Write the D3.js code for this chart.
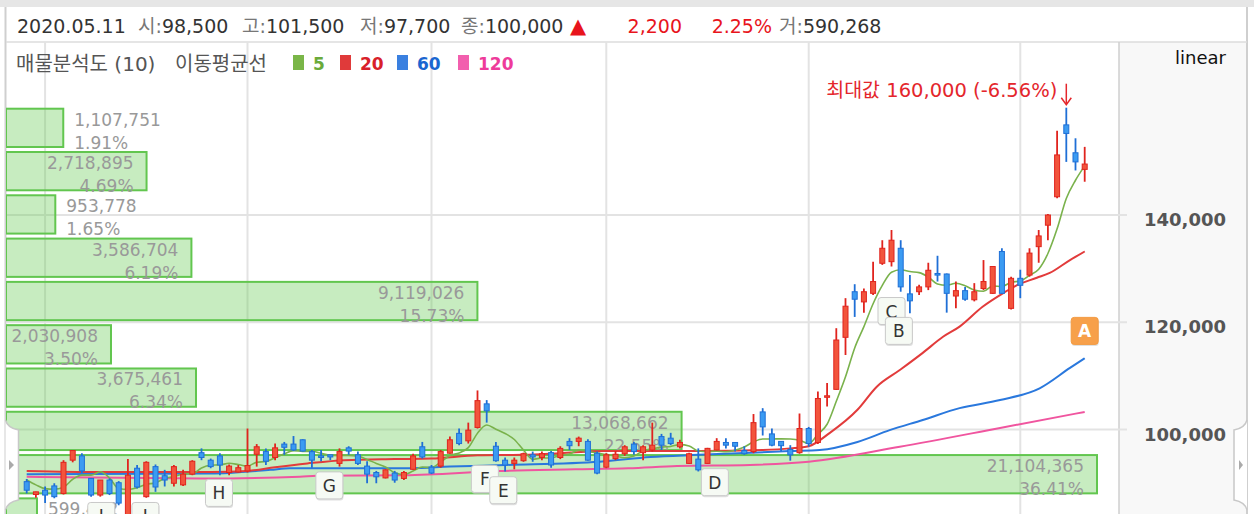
<!DOCTYPE html>
<html><head><meta charset="utf-8">
<script src="https://cdn.jsdelivr.net/npm/d3@7"></script>
<style>
body{margin:0;background:#fff;}
svg{display:block;}
</style></head><body>
<svg id="c" width="1254" height="514"></svg>
<script>
// ---------- data ----------
const opens  = [90300,87900,88700,89500,88100,94300,95100,90900,87800,90600,90100,82500,92800,87500,93100,91400,90000,89700,91700,95700,94300,95100,92000,92100,92300,95400,95900,94800,97300,97300,98100,95900,95100,95300,93700,96600,95300,93200,92000,91000,91900,90900,92600,96800,93000,93200,95600,99300,97900,100400,104800,96900,94300,93700,94200,95300,94800,95700,94800,97800,97800,97800,95600,93000,94600,95500,97300,95700,96200,98700,98400,96800,93700,94500,93700,96200,97600,97600,96100,95900,103300,99200,97800,96300,95700,100200,97600,106100,107500,117200,125700,123800,125400,131000,131300,133800,125300,125700,126600,129100,129000,124900,125900,124200,126300,125400,133200,122600,128200,128800,134100,138100,143400,156800,151600,148500];
const highs  = [90800,88400,89400,90000,94300,96200,95600,91000,90600,90900,90400,94500,93400,94100,93500,92500,93400,92500,94300,96500,94600,95600,93500,93400,100200,97300,96500,97400,97700,98800,98200,96200,96200,95300,96500,96900,95900,94100,92300,92600,92300,92300,95500,97700,93400,96200,98700,100200,101300,107300,105500,97700,94800,94800,95700,95900,95900,96000,96900,98400,98700,98200,95900,95600,96000,97100,97700,97100,101300,99200,99400,98100,95700,96500,96600,98400,98400,97700,96900,102900,104000,100200,97800,97100,103000,100500,107100,108700,118900,124500,127100,126300,131300,135300,137200,135300,128800,127000,131100,132400,129100,127600,126600,127300,131600,130400,133800,128500,129800,133800,137200,140200,155700,160000,154300,152700];
const lows   = [88100,87300,86300,87200,87900,93900,91900,87500,87500,87800,85900,79300,89000,87300,88400,89400,89400,89500,91500,94300,92800,91500,91500,92000,92000,93100,93400,94300,95300,96000,95900,92900,94100,94300,93100,95300,93400,90000,90000,90900,90100,90600,92500,94600,91700,92900,95500,97100,97400,100200,101300,94000,92200,92600,94000,94000,94300,92900,94500,96200,96900,94200,91700,92800,94300,95100,95300,94300,95900,96200,97100,96500,93600,92200,93600,96100,96500,95900,95300,95600,98900,96900,95900,94200,95500,96800,97300,104300,107400,113900,121000,121800,125100,130700,130400,125700,121700,125100,126000,127600,121800,122600,124000,123900,126000,125300,125300,122400,124500,128500,131100,135300,143100,149900,148300,146200];
const closes = [88700,88400,87800,87500,93900,96100,92300,87800,90600,88100,86300,91500,89300,93900,89300,90600,93100,91700,94100,94800,93100,93400,93200,92900,93300,96800,94100,96600,96700,96200,96000,94300,94800,94900,95900,96000,93700,91700,91200,92500,90600,92000,95100,94900,91900,95900,98100,97400,99900,105400,103500,94200,93400,94300,95500,94900,95500,93400,96500,97000,98400,94300,91900,95300,95400,96800,95900,96800,97100,97100,97400,97600,95500,92500,96500,97800,97100,96900,95500,101300,100500,97100,97000,95300,100200,97400,105800,106300,116700,123000,124300,125700,127600,133800,135300,126600,124000,126600,129700,128800,125400,125900,124300,125700,127600,130400,125400,128200,126900,132900,136100,140000,151200,155200,149900,149500];

// MA5 values at the first four candles (rest is the 5-day mean of closes)
const ma5Head = [90600,89700,89000,88900];
// [candle index, value]
const ma20 = [[0,92300],[8,92100],[20,92100],[24,92300],[27,93000],[30.5,93700],[34.5,94300],[40,94500],[44,94600],[49,95200],[54,95300],[58,95600],[63,96000],[73,96000],[80,96200],[83,96500],[85,96900],[87.3,99400],[90.3,103700],[92.4,108000],[94.9,111100],[97.4,114300],[99.6,117300],[101.4,119200],[103.9,122900],[106.1,125400],[107.6,126900],[109.8,128300],[111.2,129200],[113.4,131600],[115,133200]];
const ma60 = [[0,91700],[20,91800],[26.5,92500],[28.6,92800],[41.7,92800],[46,93100],[52,93400],[62.3,94000],[67.8,94900],[73,95300],[83,96000],[86.2,96200],[90.3,97700],[93.8,99900],[97.4,101800],[101.4,104000],[105.8,105500],[110.1,107700],[113.4,111500],[115,113300]];
const ma120 = [[0,91200],[18.8,90900],[29.7,91200],[31.5,91400],[41.1,91500],[51.5,92300],[59.6,92600],[65.4,92800],[70.7,93200],[78.6,93400],[85,94000],[94.9,96800],[105.8,100300],[115,103300]];

// volume profile (매물분석도, 10 equal price bins from the highest high down to the lowest low)
const volValues = [1107751,2718895,953778,3586704,9119026,2030908,3675461,13068662,21104365,599412];
const volPct    = [1.91,4.69,1.65,6.19,15.73,3.50,6.34,22.55,36.41,1.03];

// annotation markers [label, candle index, price]
const markLabels = ["J","I","H","G","F","E","D","C","B","A"];
const markIdx    = [8.1,12.9,20.9,32.9,49.8,51.8,74.8,94.0,94.8,115];
const markPrice  = [83900,83900,88200,89600,90800,88700,90200,122100,118400,118400];

const yTicks = [100000,120000,140000];
const gridIdx = [2,24,44,63,85,108];

const headerDate = "2020.05.11";
const headerLabels = ["시:","고:","저:","종:"];
const headerValues = ["98,500","101,500","97,700","100,000"];
const changeTxt = ["▲","2,200","2.25%"];
const volLabel = ["거:","590,268"];
const maLabels = ["5","20","60","120"];

// ---------- layout / style ----------
const headerX   = [138,242,360,461];
const legendX   = [293,340,397,458];
const maText    = ["#6aaa3a","#d8202a","#1a66d0","#ee3b9a"];
const maBox     = ["#7ab648","#e03a3a","#3a80e0","#f25fae"];
const FONT = 'DejaVu Sans, Noto Sans CJK KR';

const svg = d3.select('#c');
const L = 6, R = 1119, T = 42, B = 514;
const n = closes.length;
const x = d3.scaleLinear().domain([0, n-1]).range([26.7, 1084.7]);
const y = d3.scaleLinear().domain([100000, 140000]).range([429.6, 215]);
const vx = d3.scaleLinear().domain([0, d3.max(volValues)]).range([L, 1097]);

// backgrounds
svg.append('rect').attr('x',0).attr('y',0).attr('width',1254).attr('height',514).attr('fill','#fff');
svg.append('rect').attr('x',0).attr('y',0).attr('width',1254).attr('height',7).attr('fill','#e6e6e6');
svg.append('rect').attr('x',R).attr('y',T).attr('width',1247-R).attr('height',B-T).attr('fill','#f8f8f8');
svg.append('line').attr('x1',L-0.5).attr('x2',L-0.5).attr('y1',7).attr('y2',B).attr('stroke','#cfcfcf').attr('stroke-width',2);
svg.append('line').attr('x1',1247).attr('x2',1247).attr('y1',7).attr('y2',B).attr('stroke','#cfcfcf').attr('stroke-width',2);
svg.append('line').attr('x1',L).attr('x2',1247).attr('y1',T).attr('y2',T).attr('stroke','#dcdcdc').attr('stroke-width',1.5);
svg.append('line').attr('x1',R).attr('x2',R).attr('y1',T).attr('y2',B).attr('stroke','#cfcfcf').attr('stroke-width',1.5);

// grid
svg.append('g').selectAll('line').data(gridIdx).join('line')
  .attr('x1',d=>x(d)).attr('x2',d=>x(d)).attr('y1',T).attr('y2',B)
  .attr('stroke','#e3e3e3').attr('stroke-width',2);
svg.append('g').selectAll('line').data(yTicks).join('line')
  .attr('x1',L).attr('x2',1127).attr('y1',d=>y(d)).attr('y2',d=>y(d))
  .attr('stroke','#e3e3e3').attr('stroke-width',2);

// axis labels
svg.append('g').selectAll('text').data(yTicks).join('text')
  .attr('x',1226).attr('y',d=>y(d)+11).attr('text-anchor','end')
  .attr('font-family','DejaVu Sans').attr('font-weight','bold').attr('font-size',18)
  .attr('fill','#555').text(d=>d3.format(',')(d));
svg.append('text').attr('x',1226).attr('y',64).attr('text-anchor','end')
  .attr('font-family','DejaVu Sans').attr('font-size',18).attr('fill','#111').text('linear');

svg.append('clipPath').attr('id','pc').append('rect')
  .attr('x',L).attr('y',T).attr('width',R-L).attr('height',B-T);
const plot = svg.append('g').attr('clip-path','url(#pc)');

// volume profile bars
const pMax = d3.max(highs), pMin = d3.min(lows);
const binSize = (pMax - pMin) / volValues.length;
const vb = plot.append('g');
volValues.forEach((v,k)=>{
  const top = y(pMax - k*binSize), bot = y(pMax - (k+1)*binSize);
  vb.append('rect').attr('x',vx(0)).attr('y',top+1).attr('width',vx(v)-vx(0)).attr('height',bot-top-5)
    .attr('fill','#66cc55').attr('fill-opacity',0.37).attr('stroke','#62c64f').attr('stroke-width',2);
});
volValues.forEach((v,k)=>{
  const top = y(pMax - k*binSize);
  const g = vb.append('g');
  const t1 = g.append('text').attr('y',top+18).text(d3.format(',')(v));
  g.append('text').attr('y',top+41).text(volPct[k].toFixed(2)+'%');
  g.selectAll('text').attr('font-family','DejaVu Sans').attr('font-size',17).attr('fill','#999');
  const w = t1.node().getComputedTextLength();
  const right = vx(v);
  if (right - 13 - w >= L) {
    g.selectAll('text').attr('x',right-13).attr('text-anchor','end');
  } else {
    g.selectAll('text').attr('x',right+11).attr('text-anchor','start');
  }
});

// moving averages
const line = d3.line().x(d=>x(d[0])).y(d=>y(d[1])).curve(d3.curveMonotoneX);
const ma5 = closes.map((c,i)=> i<4 ? [i, ma5Head[i]] : [i, d3.mean(closes.slice(i-4,i+1))]);
plot.append('path').attr('d',line(ma120)).attr('fill','none').attr('stroke','#f0559f').attr('stroke-width',2);
plot.append('path').attr('d',line(ma60)).attr('fill','none').attr('stroke','#2a78dd').attr('stroke-width',2);
plot.append('path').attr('d',line(ma20)).attr('fill','none').attr('stroke','#e23b3b').attr('stroke-width',2);
plot.append('path').attr('d',line(ma5)).attr('fill','none').attr('stroke','#7ab24c').attr('stroke-width',1.6);

// candles
const cg = plot.append('g');
d3.range(n).forEach(i=>{
  const up = closes[i] >= opens[i];
  const dark = up ? '#e0241e' : '#1f6fd6';
  const fill = up ? '#f2543c' : '#3b9bf2';
  cg.append('line').attr('x1',x(i)).attr('x2',x(i)).attr('y1',y(highs[i])).attr('y2',y(lows[i]))
    .attr('stroke',dark).attr('stroke-width',1.8);
  const yt = y(Math.max(opens[i],closes[i])), yb = y(Math.min(opens[i],closes[i]));
  cg.append('rect').attr('x',x(i)-2.5).attr('y',yt).attr('width',5).attr('height',Math.max(1.5,yb-yt))
    .attr('fill',fill).attr('stroke',dark).attr('stroke-width',1);
});

// max annotation
const mi = d3.maxIndex(highs);
const mx = x(mi), my = y(highs[mi]);
svg.append('text').attr('x',mx-9).attr('y',my-11).attr('text-anchor','end')
  .attr('font-family',FONT).attr('font-size',19.5).attr('fill','#e4262c')
  .text('최대값 ' + d3.format(',')(highs[mi]) + ' (' + ((closes[n-1]/highs[mi]-1)*100).toFixed(2) + '%)');
svg.append('line').attr('x1',mx).attr('x2',mx).attr('y1',my-24).attr('y2',my-4).attr('stroke','#e4262c').attr('stroke-width',1.5);
svg.append('path').attr('d',`M${mx-5},${my-10}L${mx},${my-3}L${mx+5},${my-10}`).attr('fill','none').attr('stroke','#e4262c').attr('stroke-width',1.5);

// markers
const mg = plot.append('g');
markLabels.forEach((lab,k)=>{
  const cx = x(markIdx[k]), cy = y(markPrice[k]);
  const isA = lab==='A';
  mg.append('rect').attr('x',cx-13).attr('y',cy-12).attr('width',27).attr('height',27).attr('rx',3)
    .attr('fill','#ccc').attr('opacity',0.6);
  mg.append('rect').attr('x',cx-13.5).attr('y',cy-13.5).attr('width',27).attr('height',27).attr('rx',3)
    .attr('fill',isA?'#f7a04a':'#f6faf4').attr('stroke',isA?'#f39a40':'#c9c9c9').attr('stroke-width',1);
  mg.append('text').attr('x',cx).attr('y',cy+6.5).attr('text-anchor','middle')
    .attr('font-family','DejaVu Sans').attr('font-size',17).attr('font-weight',isA?'bold':'normal')
    .attr('fill',isA?'#fff':'#333').text(lab);
});

// header
const hg = svg.append('g').attr('font-family',FONT).attr('font-size',19);
hg.append('text').attr('x',17).attr('y',33).attr('fill','#333').text(headerDate);
headerLabels.forEach((lab,k)=>{
  const t = hg.append('text').attr('x',headerX[k]).attr('y',33);
  t.append('tspan').attr('fill','#777').text(lab);
  t.append('tspan').attr('fill','#333').text(headerValues[k]);
});
hg.append('text').attr('x',570).attr('y',33).attr('font-size',21).attr('fill','#e8141c').text(changeTxt[0]);
hg.append('text').attr('x',682).attr('y',33).attr('text-anchor','end').attr('fill','#e8141c').text(changeTxt[1]);
hg.append('text').attr('x',772).attr('y',33).attr('text-anchor','end').attr('fill','#e8141c').text(changeTxt[2]);
const vt = hg.append('text').attr('x',779).attr('y',33);
vt.append('tspan').attr('fill','#777').text(volLabel[0]);
vt.append('tspan').attr('fill','#333').text(volLabel[1]);

// legend
const lg = svg.append('g').attr('font-family',FONT).attr('font-size',20);
lg.append('text').attr('x',16).attr('y',71).attr('fill','#555').text('매물분석도 (10)');
lg.append('text').attr('x',175).attr('y',71).attr('fill','#555').text('이동평균선');
maLabels.forEach((lab,k)=>{
  lg.append('rect').attr('x',legendX[k]).attr('y',55).attr('width',11).attr('height',15).attr('fill',maBox[k]);
  lg.append('text').attr('x',legendX[k]+20).attr('y',70).attr('fill',maText[k]).attr('font-weight','bold')
    .attr('font-size',17).text(lab);
});

// side tabs
function tab(x0, s){
  const p = d3.path();
  p.moveTo(x0, 420);
  p.quadraticCurveTo(x0 + s*2, 428, x0 + s*13, 430);
  p.lineTo(x0 + s*13, 500);
  p.quadraticCurveTo(x0 + s*2, 502, x0, 510);
  svg.append('path').attr('d',p.toString()).attr('fill','#fff').attr('stroke','#c8c8c8').attr('stroke-width',1.5);
}
tab(L-0.5, 1);
tab(1247, -1);
svg.append('path').attr('d','M9,460L14,465L9,470Z').attr('fill','#aaa');
svg.append('path').attr('d','M1239,460L1243,465L1239,470Z').attr('fill','#aaa');
</script>
</body></html>
